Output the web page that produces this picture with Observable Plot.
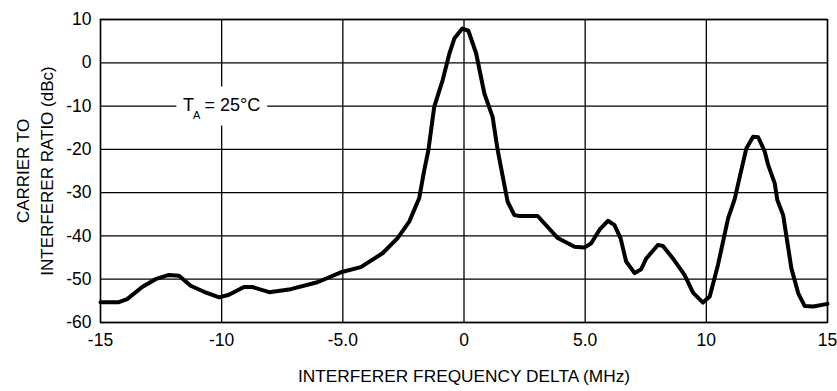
<!DOCTYPE html>
<html><head><meta charset="utf-8">
<script src="https://cdn.jsdelivr.net/npm/d3@7"></script>
<script src="https://cdn.jsdelivr.net/npm/@observablehq/plot@0.6"></script>
<style>
body{margin:0;background:#fff}
svg{font-family:"Liberation Sans",Arial,Helvetica,sans-serif}
</style>
</head><body><div id="chart"></div>
<script>
const freqMHz = [-15, -14.24, -13.9, -13.28, -12.73, -12.18, -11.76, -11.28, -10.73, -10.1, -9.7, -9.08, -8.73, -8.04, -7.15, -6.05, -5.08, -4.26, -3.36, -2.74, -2.26, -1.85, -1.64, -1.47, -1.23, -0.88, -0.6, -0.4, -0.07,
  0.18, 0.5, 0.84, 1.18, 1.39, 1.6, 1.8, 2.08, 2.29, 3.04, 3.87, 4.56, 4.97, 5.25, 5.6, 5.94, 6.21, 6.46, 6.69, 7.04, 7.31, 7.52, 8.0, 8.21, 8.62, 9.1, 9.45, 9.86, 10.14, 10.48, 10.9, 11.17, 11.38, 11.65, 11.93, 12.14, 12.41, 12.55, 12.82, 12.93, 13.17, 13.51, 13.79, 14.06, 14.41, 15.0];
const ratioDbc = [-55.3, -55.3, -54.6, -51.8, -50, -49, -49.2, -51.5, -52.9, -54.2, -53.6, -51.8, -51.8, -53, -52.3, -50.7, -48.4, -47.2, -44, -40.5, -36.7, -31.3, -24.8, -20.2, -10.2, -4, 2.2, 5.6, 7.9,
  7.4, 2.2, -7.1, -12.5, -20.2, -26.3, -32.1, -35.2, -35.4, -35.4, -40.5, -42.5, -42.7, -41.7, -38.5, -36.5, -37.5, -40.5, -45.9, -48.6, -47.7, -45.2, -42.1, -42.3, -45.2, -49, -53.1, -55.4, -54, -46.7, -35.9, -31.5, -26.3, -19.8, -17.1, -17.2, -20.5, -23.6, -27.8, -31.7, -35.2, -47.5, -53.2, -56.2, -56.3, -55.7];
const xTicks = [-15, -10, -5, 0, 5, 10, 15];
const xTickLabels = ["-15", "-10", "-5.0", "0", "5.0", "10", "15"];
const yTicks = [10, 0, -10, -20, -30, -40, -50, -60];
const yTickLabels = ["10", "0", "-10", "-20", "-30", "-40", "-50", "-60"];
const xLabel = "INTERFERER FREQUENCY DELTA (MHz)";
const yLabel = "CARRIER TO\nINTERFERER RATIO (dBc)";
const annotation = [{x: -11.6, y: -10, x1: -11.85, x2: -8.1, y1: -14.6, y2: -5.6}];

const data = freqMHz.map((x, i) => ({x, y: ratioDbc[i]}));
const font = 17.5;

const chart = Plot.plot({
  width: 837, height: 391,
  marginLeft: 100, marginRight: 10, marginTop: 19, marginBottom: 69,
  style: {fontSize: font + "px", fontFamily: '"Liberation Sans",Arial,Helvetica,sans-serif', background: "white", color: "black"},
  x: {domain: [-15, 15]},
  y: {domain: [-60, 10]},
  marks: [
    Plot.gridX(xTicks, {stroke: "black", strokeOpacity: 1, strokeWidth: 1.3}),
    Plot.gridY(yTicks, {stroke: "black", strokeOpacity: 1, strokeWidth: 1.3}),
    Plot.rect(annotation, {x1: "x1", x2: "x2", y1: "y1", y2: "y2", fill: "white"}),
    Plot.axisX(xTicks, {tickSize: 0, tickPadding: 11, label: null, tickFormat: d => xTickLabels[xTicks.indexOf(d)], fontSize: font}),
    Plot.axisY(yTicks, {tickSize: 0, tickPadding: 9, label: null, tickFormat: d => yTickLabels[yTicks.indexOf(d)], fontSize: font}),
    Plot.frame({stroke: "black", strokeWidth: 1.4}),
    Plot.line(data, {x: "x", y: "y", stroke: "black", strokeWidth: 4, strokeLinejoin: "round", strokeLinecap: "round"}),
    Plot.text(annotation, {x: "x", y: "y", text: () => "T", textAnchor: "start", fontSize: 18, dy: -1}),
    Plot.text(annotation, {x: "x", y: "y", text: () => "A", textAnchor: "start", fontSize: 11, dx: 10, dy: 9}),
    Plot.text(annotation, {x: "x", y: "y", text: () => "= 25°C", textAnchor: "start", fontSize: 18, dx: 21.5, dy: -1}),
    Plot.text([xLabel], {frameAnchor: "bottom", textAnchor: "middle", lineAnchor: "top", dy: 47, fontSize: 17.3}),
    Plot.text([yLabel], {frameAnchor: "left", textAnchor: "middle", lineAnchor: "middle", rotate: -90, dx: -67.5, lineHeight: 1.47, fontSize: 17})
  ]
});
document.getElementById("chart").appendChild(chart);
</script>
</body></html>
